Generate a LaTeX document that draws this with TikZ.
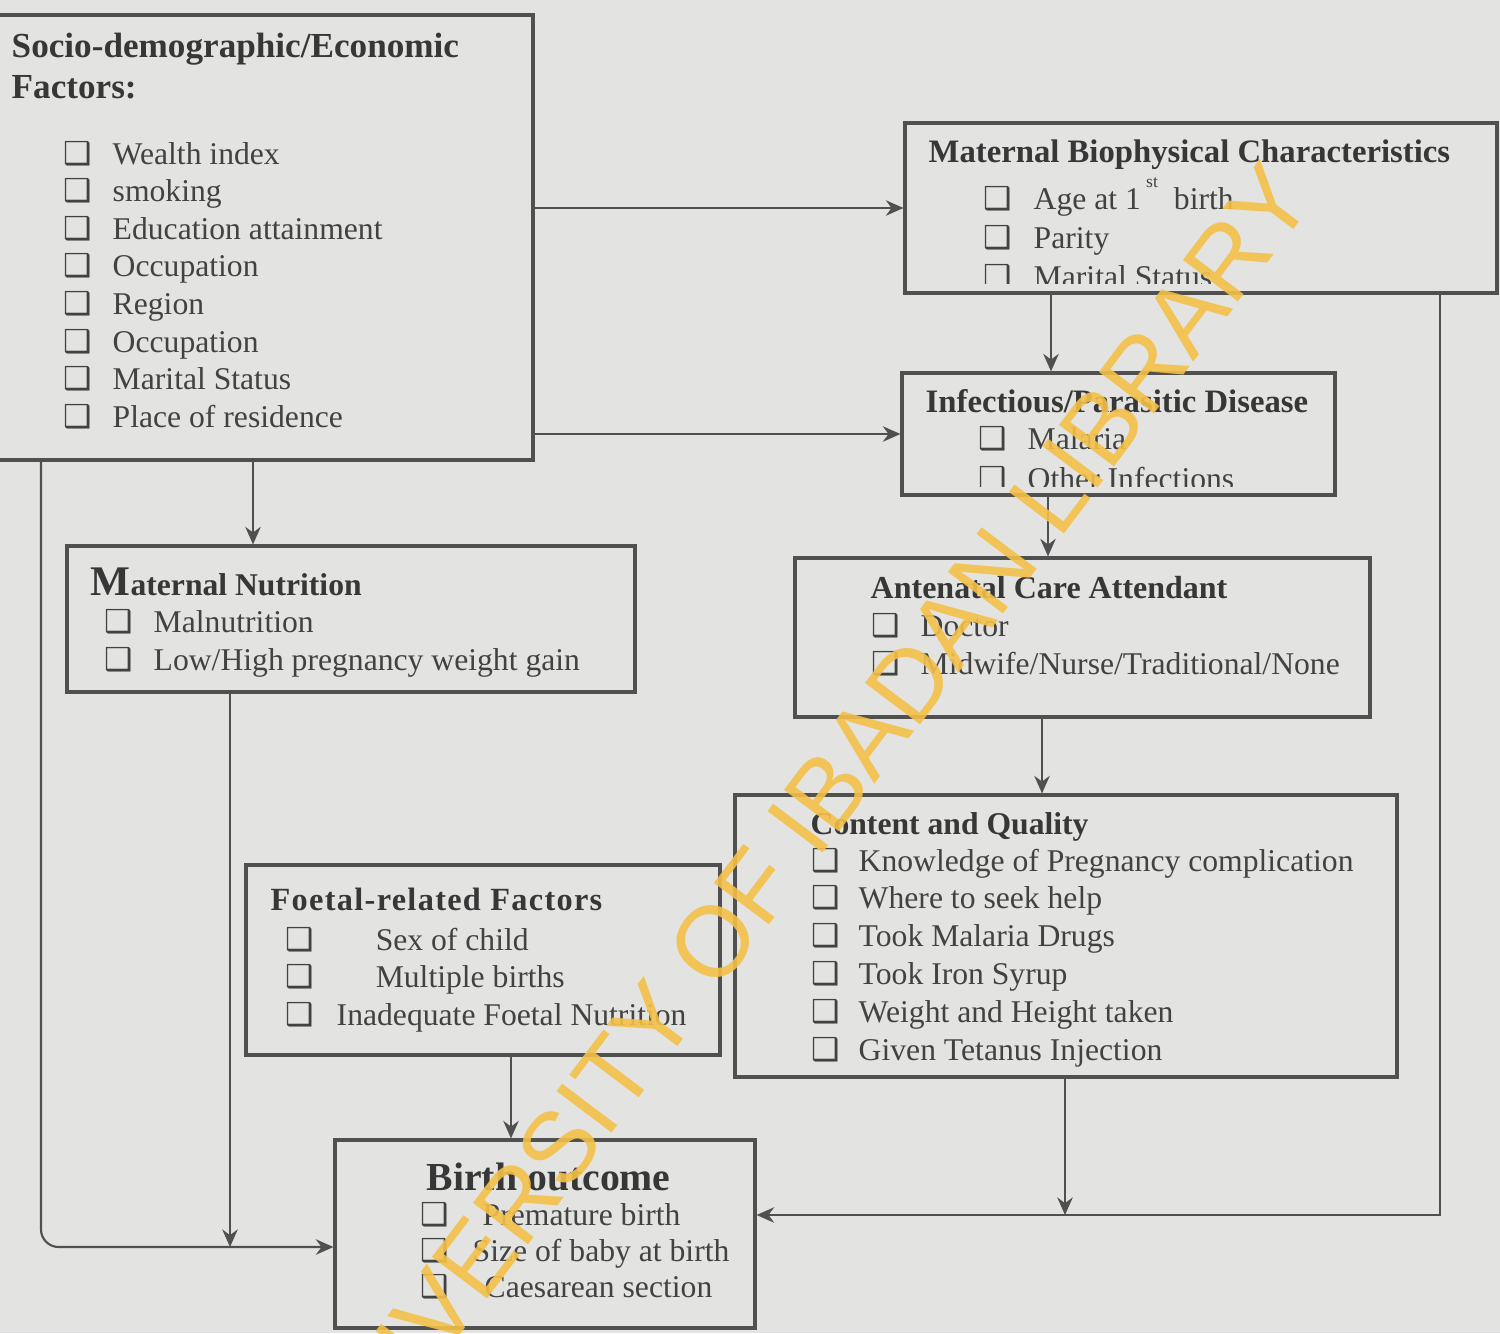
\documentclass[tikz,border=0pt]{standalone}
\usepackage{fontspec}
\setmainfont{Liberation Serif}
\newfontfamily\symfont{DejaVu Sans}
\newfontfamily\wmfont{Liberation Sans}
\usetikzlibrary{arrows.meta,fit,calc}

\definecolor{paper}{RGB}{227,227,225}
\definecolor{ink}{RGB}{66,66,66}
\definecolor{head}{RGB}{55,55,55}
\definecolor{edge}{RGB}{80,80,80}
\definecolor{stamp}{RGB}{244,192,72}

% Checkbox glyph and item prefix
\newcommand\cbsym{{\symfont\fontsize{9}{9}\selectfont ❑}}
\newcommand\cb[1][4.9mm]{\makebox[#1][l]{\cbsym}}

\tikzset{
  box/.style={draw=edge, line width=0.9pt, inner sep=0pt},
  ttl/.style={font=\bfseries\fontsize{9.3}{11}\selectfont, text=head, inner sep=0pt, anchor=base west},
  itm/.style={font=\fontsize{9}{11}\selectfont, text=ink, inner sep=0pt, anchor=base west},
  arr/.style={draw=edge, line width=0.6pt, -{Stealth[length=5pt,width=4.4pt]}},
  wm/.style={font=\wmfont\fontsize{28.5}{30}\selectfont, text=stamp, rotate=53, inner sep=0pt, opacity=0.9}
}

\begin{document}
\begin{tikzpicture}[x=0.01cm, y=-0.01cm]

% Page
\fill[paper] (0,0) rectangle (1500,1333);
\useasboundingbox (0,0) rectangle (1500,1333);

% Boxes
\node[box, fit={(-5,15) (533,460)}]     (socio)   {};
\node[box, fit={(905,123) (1497,293)}]  (bio)     {};
\node[box, fit={(902,373) (1335,495)}]  (infect)  {};
\node[box, fit={(795,558) (1370,717)}]  (ante)    {};
\node[box, fit={(735,795) (1397,1077)}] (content) {};
\node[box, fit={(67,546) (635,692)}]    (nutr)    {};
\node[box, fit={(246,865) (720,1055)}]  (foetal)  {};
\node[box, fit={(335,1140) (755,1328)}] (birth)   {};

% Socio-demographic box
\node[ttl, font=\bfseries\fontsize{10}{12}\selectfont] (socio-t1) at (11,57) {Socio-demographic/Economic};
\node[ttl, font=\bfseries\fontsize{10}{12}\selectfont] (socio-t2) at (11,98) {Factors:};
\foreach \t [count=\i] in {Wealth index, smoking, Education attainment, Occupation,
    Region, Occupation, Marital Status, Place of residence}
  \node[itm] (socio-\i) at (63,{164+37.6*(\i-1)}) {\cb\t};

% Maternal biophysical box (text runs past the lower edge)
\begin{scope}
  \clip (905,123) rectangle (1497,283);
  \node[ttl] (bio-t) at (928,162) {Maternal Biophysical Characteristics};
  \foreach \t [count=\i] in {{Age at 1\,\raisebox{6pt}{\fontsize{5}{5}\selectfont st}\hspace{1.6mm}birth},
      Parity, Marital Status}
    \node[itm] (bio-\i) at (983,{209+39*(\i-1)}) {\cb[5mm]\t};
\end{scope}

% Infectious disease box
\begin{scope}
  \clip (902,373) rectangle (1335,486);
  \node[ttl] (infect-t) at (925,412) {Infectious/Parasitic Disease};
  \foreach \t [count=\i] in {Malaria, Other Infections}
    \node[itm] (infect-\i) at (978,{449+40*(\i-1)}) {\cb\t};
\end{scope}

% Antenatal care box
\node[ttl, font=\bfseries\fontsize{9.1}{11}\selectfont] (ante-t) at (870,598) {Antenatal Care Attendant};
\foreach \t [count=\i] in {Doctor, Midwife/Nurse/Traditional/None}
  \node[itm] (ante-\i) at (871,{636+38*(\i-1)}) {\cb\t};

% Content and quality box
\node[ttl, font=\bfseries\fontsize{9}{11}\selectfont] (content-t) at (810,834) {Content and Quality};
\foreach \t [count=\i] in {Knowledge of Pregnancy complication, Where to seek help,
    Took Malaria Drugs, Took Iron Syrup, Weight and Height taken, Given Tetanus Injection}
  \node[itm] (content-\i) at (811,{871+37.8*(\i-1)}) {\cb[4.7mm]\t};

% Maternal nutrition box
\node[ttl, font=\bfseries\fontsize{9}{11}\selectfont] (nutr-t) at (90,595)
  {{\fontsize{12}{12}\selectfont M}aternal Nutrition};
\foreach \t [count=\i] in {Malnutrition, Low/High pregnancy weight gain}
  \node[itm] (nutr-\i) at (104,{632+38*(\i-1)}) {\cb\t};

% Foetal box
\node[ttl, font=\bfseries\fontsize{9.2}{11}\selectfont\addfontfeature{LetterSpace=4}] (foetal-t) at (270,910)
  {Foetal-related Factors};
\foreach \t/\w [count=\i] in {Sex of child/9mm, Multiple births/9mm, Inadequate Foetal Nutrition/5.1mm}
  \node[itm] (foetal-\i) at (285,{950+37.5*(\i-1)}) {\cb[\w]\t};

% Birth outcome box
\node[ttl, font=\bfseries\fontsize{11.3}{13}\selectfont] (birth-t) at (426,1190) {Birth outcome};
\foreach \t/\w [count=\i] in {Premature birth/6.2mm, Size of baby at birth/5.2mm, Caesarean section/6.4mm}
  \node[itm] (birth-\i) at (420,{1225+36*(\i-1)}) {\cb[\w]\t};

% Connector columns and rows
\coordinate (xs) at (253,0);
\coordinate (xb) at (1051,0);
\coordinate (xi) at (1048,0);
\coordinate (xa) at (1042,0);
\coordinate (xf) at (511,0);
\coordinate (xl) at (41,0);
\coordinate (xn) at (230,0);
\coordinate (xr) at (1440,0);
\coordinate (xc) at (1065,0);
\coordinate (yl) at (0,1247);
\coordinate (yr) at (0,1215);

% Arrows
\draw[arr] (socio.east |- bio.west) -- (bio.west);
\draw[arr] (socio.east |- infect.west) -- (infect.west);
\draw[arr] (socio.south -| xs) -- (nutr.north -| xs);
\draw[arr] (bio.south -| xb) -- (infect.north -| xb);
\draw[arr] (infect.south -| xi) -- (ante.north -| xi);
\draw[arr] (ante.south -| xa) -- (content.north -| xa);
\draw[arr] (foetal.south -| xf) -- (birth.north -| xf);
\draw[arr, rounded corners=5pt] (socio.south -| xl) |- (birth.west |- yl);
\draw[arr] (nutr.south -| xn) -- (xn |- yl);
\draw[arr] (bio.south -| xr) |- (birth.east |- yr);
\draw[arr] (content.south -| xc) -- (xc |- yr);

% Library stamp
\node[wm] (stamp) at (800,827) {UNIVERSITY OF IBADAN LIBRARY};

\end{tikzpicture}
\end{document}
